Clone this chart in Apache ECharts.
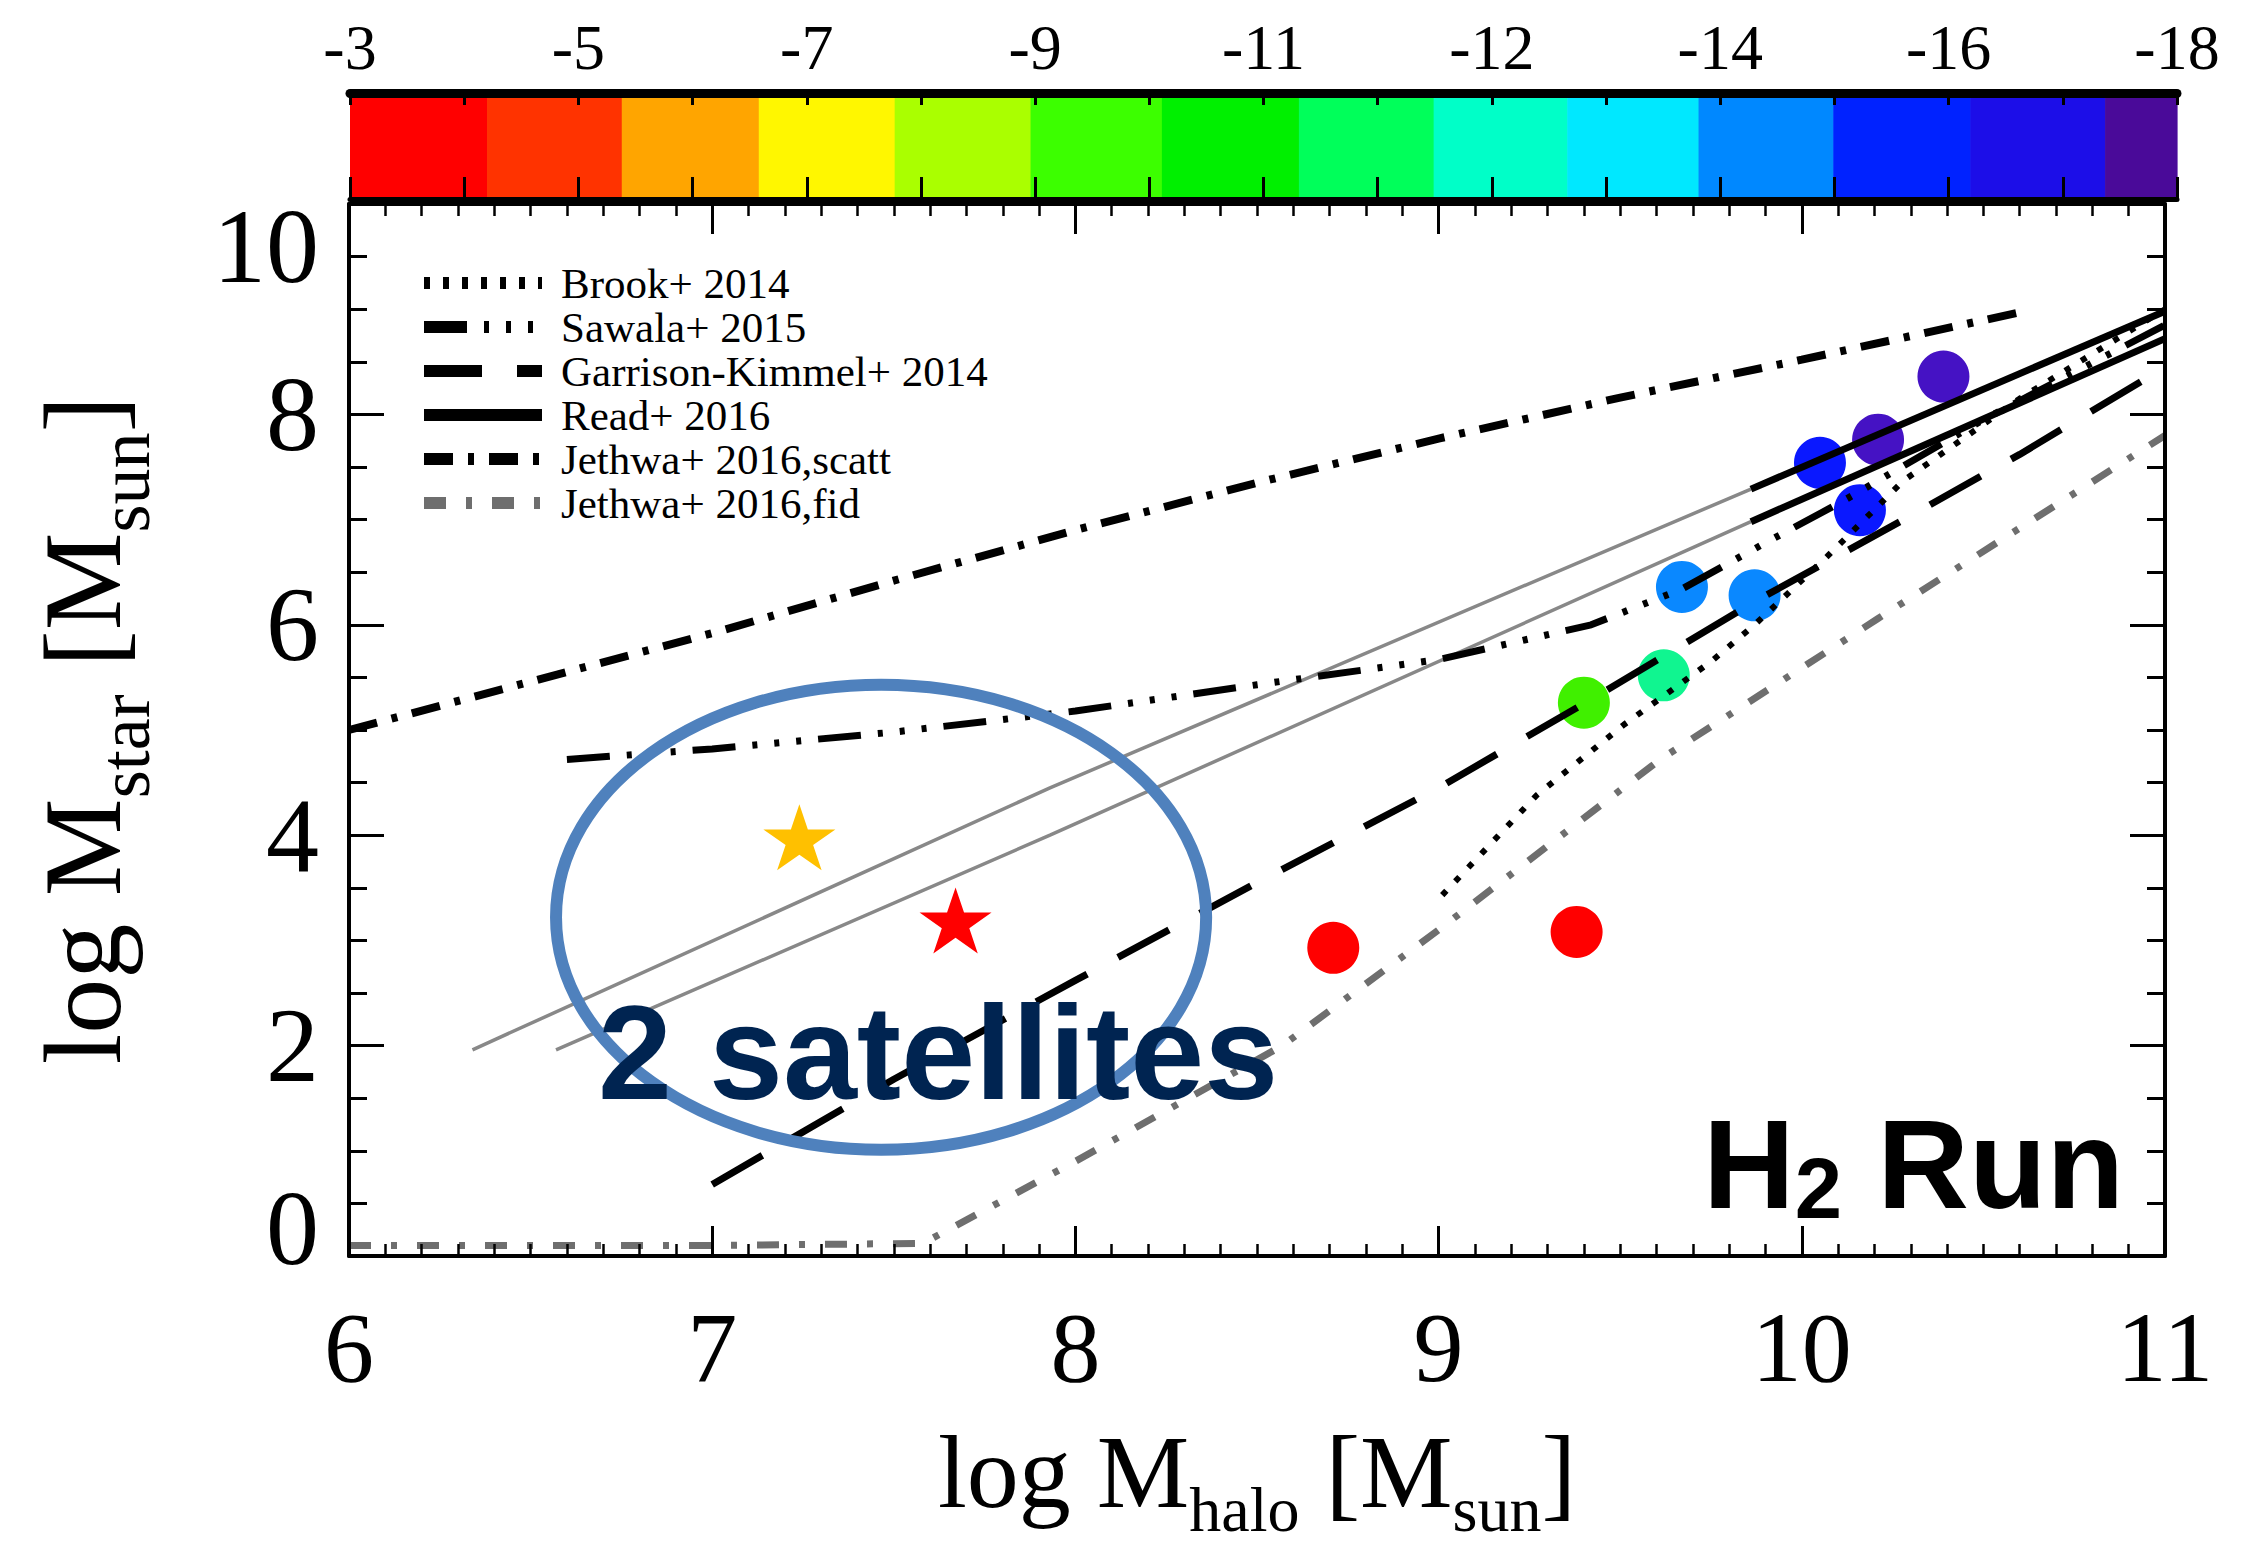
<!DOCTYPE html>
<html>
<head>
<meta charset="utf-8">
<script src="https://cdn.jsdelivr.net/npm/echarts@6/dist/echarts.min.js"></script>
<style>
html,body{margin:0;padding:0;background:#fff;}
#c{width:2259px;height:1552px;}
</style>
</head>
<body>
<div id="c"></div>
<script>
// ---------------- DATA ----------------
// relations [log Mhalo, log Mstar]
const brook2014 = [[9.01,3.43],[9.27,4.38],[9.51,5.05],[9.75,5.65],[9.87,6.0],[10.07,6.65],[10.28,7.37],[10.6,8.15],[11.0,9.0]];
const sawala2015 = [[6.6,4.72],[7.0,4.82],[7.5,4.98],[8.0,5.18],[8.5,5.43],[9.0,5.67],[9.42,6.0],[9.67,6.34],[9.9,6.78],[10.1,7.15],[10.5,7.95],[11.0,8.85]];
const garrisonKimmel2014 = [[7.0,0.68],[7.5,1.68],[8.0,2.62],[8.5,3.55],[9.0,4.45],[9.4,5.25],[9.87,6.22],[10.27,6.98],[10.6,7.62],[11.0,8.45]];
const read2016UpperExtrap = [[6.34,1.96],[7.93,4.45],[9.86,7.29]];
const read2016LowerExtrap = [[6.57,1.96],[7.93,4.0],[9.86,6.98]];
const read2016Upper = [[9.86,7.29],[11.0,8.98]];
const read2016Lower = [[9.86,6.98],[11.0,8.72]];
const jethwaScatt = [[6.0,5.0],[6.5,5.46],[7.0,5.92],[7.5,6.42],[8.0,6.9],[8.5,7.35],[9.0,7.77],[9.5,8.16],[10.0,8.52],[10.6,8.97]];
const jethwaFid = [[6.0,0.1],[6.5,0.1],[7.0,0.1],[7.58,0.12],[8.0,0.9],[8.57,2.0],[9.0,3.1],[9.61,4.72],[10.21,6.06],[11.0,7.8]];

// simulated dwarfs (circles)
const dwarfs = [[10.39,8.36],[10.21,7.76],[10.05,7.54],[10.16,7.09],[9.67,6.36],[9.87,6.28],[9.62,5.52],[9.40,5.26],[8.71,2.93],[9.38,3.08]];
// satellites (stars)
const satellites = [[7.24,3.98],[7.67,3.19]];
// annotation ellipse [cx, cy, rx, ry] in data units
const satelliteEllipse = [7.465, 3.22, 0.895, 2.21];

// colour bar
const cbTickLabels = ['-3','-5','-7','-9','-11','-12','-14','-16','-18'];
const cbEdges = [0,1.20,2.38,3.58,4.77,5.96,7.11,8.31,9.49,10.66,11.81,12.99,14.19,15.37,16];

const legendNames = ['Brook+ 2014','Sawala+ 2015','Garrison-Kimmel+ 2014','Read+ 2016','Jethwa+ 2016,scatt','Jethwa+ 2016,fid'];

// ---------------- STYLES ----------------
const cbColors = ['#FF0000','#FF3300','#FFA500','#FFF700','#AAFF00','#3CFF00','#00F000','#00FF5A','#00FFC8','#00E8FF','#0088FF','#0022FF','#1C0EE8','#4A0A99'];
const dwarfColors = ['#4512C4','#4512C4','#0A18FF','#0A18FF','#0A88FF','#0A88FF','#10F590','#40F000','#FF0000','#FF0000'];
const satelliteColors = ['#FFC000','#FF0000'];
const SERIF = '"Liberation Serif","DejaVu Serif",serif';
const SANS = '"Liberation Sans","Arimo",Arial,sans-serif';
const STAR = 'path://M100,0 L122.45,69.1 L195.11,69.1 L136.33,111.8 L158.78,180.9 L100,138.2 L41.22,180.9 L63.67,111.8 L4.89,69.1 L77.55,69.1 Z';

const dash = {
  brook:[6,13],
  sawala:[43,17,5,17,5,17,5,17],
  gk:[58,35],
  scatt:[29,15,6,15],
  fid:[22,20,6,20]
};

function lineSeries(name, data, color, width, type) {
  return {
    type:'line', name:name, data:data, xAxisIndex:0, yAxisIndex:0,
    symbol:'none', showSymbol:false, silent:true, z:3,
    lineStyle:{color:color, width:width, type:type || 'solid', cap:'butt'}
  };
}

const chart = echarts.init(document.getElementById('c'), null, {renderer:'svg', width:2259, height:1552});

const richXName = {
  a:{fontFamily:SERIF, fontSize:104, lineHeight:104, color:'#000'},
  b:{fontFamily:SERIF, fontSize:64, lineHeight:64, padding:[76,0,0,0], color:'#000'}
};
const richYName = {
  a:{fontFamily:SERIF, fontSize:110, lineHeight:110, color:'#000'},
  b:{fontFamily:SERIF, fontSize:72, lineHeight:72, padding:[84,0,0,0], color:'#000'}
};

const legendStyles = [
  {type:dash.brook, color:'#000'},
  {type:dash.sawala, color:'#000'},
  {type:dash.gk, color:'#000'},
  {type:'solid', color:'#000'},
  {type:dash.scatt, color:'#000'},
  {type:dash.fid, color:'#6e6e6e'}
];

const option = {
  animation:false,
  backgroundColor:'#fff',
  grid:[
    {left:349, right:94, top:204, bottom:296, containLabel:false, outerBoundsMode:'none'},
    {left:350, right:82, top:93, height:106, containLabel:false, outerBoundsMode:'none'}
  ],
  xAxis:[
    {type:'value', gridIndex:0, min:6, max:11, interval:1, position:'bottom', z:10,
      axisLine:{show:true, onZero:false, lineStyle:{color:'#000', width:4}},
      axisTick:{show:true, inside:true, length:30, lineStyle:{color:'#000', width:3}},
      minorTick:{show:true, splitNumber:10, length:12, lineStyle:{color:'#000', width:2.5}},
      splitLine:{show:false}, minorSplitLine:{show:false},
      axisLabel:{margin:58, fontFamily:SERIF, fontSize:100, lineHeight:66, color:'#000'},
      name:'{a|log M}{b|halo}{a| [M}{b|sun}{a|]}', nameLocation:'middle', nameGap:163,
      nameMoveOverlap:false,
      nameTextStyle:{rich:richXName}
    },
    {type:'value', gridIndex:0, min:6, max:11, interval:1, position:'top', z:10,
      axisLine:{show:true, onZero:false, lineStyle:{color:'#000', width:4}},
      axisTick:{show:true, inside:true, length:30, lineStyle:{color:'#000', width:3}},
      minorTick:{show:true, splitNumber:10, length:12, lineStyle:{color:'#000', width:2.5}},
      splitLine:{show:false}, axisLabel:{show:false}
    },
    {type:'value', gridIndex:1, min:0, max:16, interval:1, position:'top', z:10,
      axisLine:{show:true, onZero:false, lineStyle:{color:'#000', width:9}},
      axisTick:{show:true, inside:true, length:12, lineStyle:{color:'#000', width:3}},
      splitLine:{show:false},
      axisLabel:{margin:14, fontFamily:SERIF, fontSize:64, color:'#000',
        formatter:function(v){ return (v % 2 === 0) ? cbTickLabels[v/2] : ''; }}
    },
    {type:'value', gridIndex:1, min:0, max:16, interval:1, position:'bottom', z:10,
      axisLine:{show:true, onZero:false, lineStyle:{color:'#000', width:5}},
      axisTick:{show:true, inside:true, length:22, lineStyle:{color:'#000', width:3}},
      splitLine:{show:false}, axisLabel:{show:false}
    }
  ],
  yAxis:[
    {type:'value', gridIndex:0, min:0, max:10, interval:2, position:'left', z:10,
      axisLine:{show:true, onZero:false, lineStyle:{color:'#000', width:4}},
      axisTick:{show:true, inside:true, length:35, lineStyle:{color:'#000', width:3}},
      minorTick:{show:true, splitNumber:4, length:18, lineStyle:{color:'#000', width:3}},
      splitLine:{show:false}, minorSplitLine:{show:false},
      axisLabel:{margin:30, fontFamily:SERIF, fontSize:106, color:'#000',
        formatter:function(v){ if (v === 10) return '{t|10}'; if (v === 0) return '{b|0}'; return '{n|' + v + '}'; },
        rich:{
          n:{fontFamily:SERIF, fontSize:106, lineHeight:106, color:'#000'},
          t:{fontFamily:SERIF, fontSize:106, lineHeight:106, color:'#000', padding:[84,0,0,0]},
          b:{fontFamily:SERIF, fontSize:106, lineHeight:106, color:'#000', padding:[0,0,56,0]}
        }
      },
      name:'{a|log M}{b|star}{a| [M}{b|sun}{a|]}', nameLocation:'middle', nameGap:211, nameRotate:90,
      nameMoveOverlap:false,
      nameTextStyle:{rich:richYName}
    },
    {type:'value', gridIndex:0, min:0, max:10, interval:2, position:'right', z:10,
      axisLine:{show:true, onZero:false, lineStyle:{color:'#000', width:4}},
      axisTick:{show:true, inside:true, length:35, lineStyle:{color:'#000', width:3}},
      minorTick:{show:true, splitNumber:4, length:18, lineStyle:{color:'#000', width:3}},
      splitLine:{show:false}, axisLabel:{show:false}
    },
    {type:'value', gridIndex:1, min:0, max:1, show:false}
  ],
  legend:{
    orient:'vertical', left:418, top:261, padding:0, itemGap:0,
    itemWidth:118, itemHeight:14, selectedMode:false,
    textStyle:{fontFamily:SERIF, fontSize:43, color:'#000', lineHeight:44, padding:[0,0,0,14]},
    data: legendNames.map(function(n, i){
      return {name:n, itemStyle:{opacity:0},
        lineStyle:{type:legendStyles[i].type, color:legendStyles[i].color, width:12, cap:'butt', opacity:1}};
    })
  },
  series:[
    {type:'scatter', name:'dwarfs', xAxisIndex:0, yAxisIndex:0, z:2, silent:true,
      symbol:'circle', symbolSize:52,
      data: dwarfs.map(function(p, i){ return {value:p, itemStyle:{color:dwarfColors[i], opacity:1}}; })
    },
    {type:'scatter', name:'satellites', xAxisIndex:0, yAxisIndex:0, z:2, silent:true,
      symbol:STAR, symbolSize:[72,66],
      data: satellites.map(function(p, i){ return {value:p, itemStyle:{color:satelliteColors[i], opacity:1}}; })
    },
    lineSeries('Read+ 2016 extrapolated', read2016UpperExtrap, '#888', 3.5),
    lineSeries('Read+ 2016 extrapolated', read2016LowerExtrap, '#888', 3.5),
    lineSeries('Jethwa+ 2016,fid', jethwaFid, '#6e6e6e', 7, dash.fid),
    lineSeries('Garrison-Kimmel+ 2014', garrisonKimmel2014, '#000', 7, dash.gk),
    lineSeries('Brook+ 2014', brook2014, '#000', 6, dash.brook),
    lineSeries('Sawala+ 2015', sawala2015, '#000', 7, dash.sawala),
    lineSeries('Read+ 2016', read2016Upper, '#000', 7),
    lineSeries('Read+ 2016', read2016Lower, '#000', 7),
    lineSeries('Jethwa+ 2016,scatt', jethwaScatt, '#000', 8, dash.scatt),
    {type:'custom', name:'ellipse', xAxisIndex:0, yAxisIndex:0, z:6, silent:true, clip:false,
      data:[satelliteEllipse], encode:{x:0, y:1},
      renderItem:function(params, api){
        const c = api.coord([api.value(0), api.value(1)]);
        const s = api.size([api.value(2), api.value(3)]);
        return {type:'ellipse', shape:{cx:c[0], cy:c[1], rx:s[0], ry:s[1]},
          style:{fill:'none', stroke:'#4F81BD', lineWidth:12}};
      }
    },
    {type:'custom', name:'colorbar', xAxisIndex:2, yAxisIndex:2, z:2, silent:true,
      data: cbColors.map(function(c, i){ return [cbEdges[i], cbEdges[i+1], i]; }),
      encode:{x:[0,1]},
      renderItem:function(params, api){
        const p0 = api.coord([api.value(0), 1]);
        const p1 = api.coord([api.value(1), 0]);
        return {type:'rect', shape:{x:p0[0], y:p0[1], width:p1[0]-p0[0]+0.6, height:p1[1]-p0[1]},
          style:{fill:cbColors[api.value(2)]}};
      }
    }
  ],
  graphic:[
    {type:'text', x:598, y:1053, z:100, silent:true,
      style:{text:'2 satellites', fontFamily:SANS, fontWeight:'bold', fontSize:133,
        fill:'#002451', align:'left', verticalAlign:'middle'}},
    {type:'text', x:1703, y:1164, z:100, silent:true,
      style:{text:'{a|H}{b|2}{a| Run}', align:'left', verticalAlign:'middle',
        rich:{
          a:{fontFamily:SANS, fontWeight:'bold', fontSize:127, lineHeight:127, fill:'#000', color:'#000'},
          b:{fontFamily:SANS, fontWeight:'bold', fontSize:85, lineHeight:85, padding:[48,0,0,0], fill:'#000', color:'#000'}
        }}}
  ]
};
chart.setOption(option);
</script>
</body>
</html>
